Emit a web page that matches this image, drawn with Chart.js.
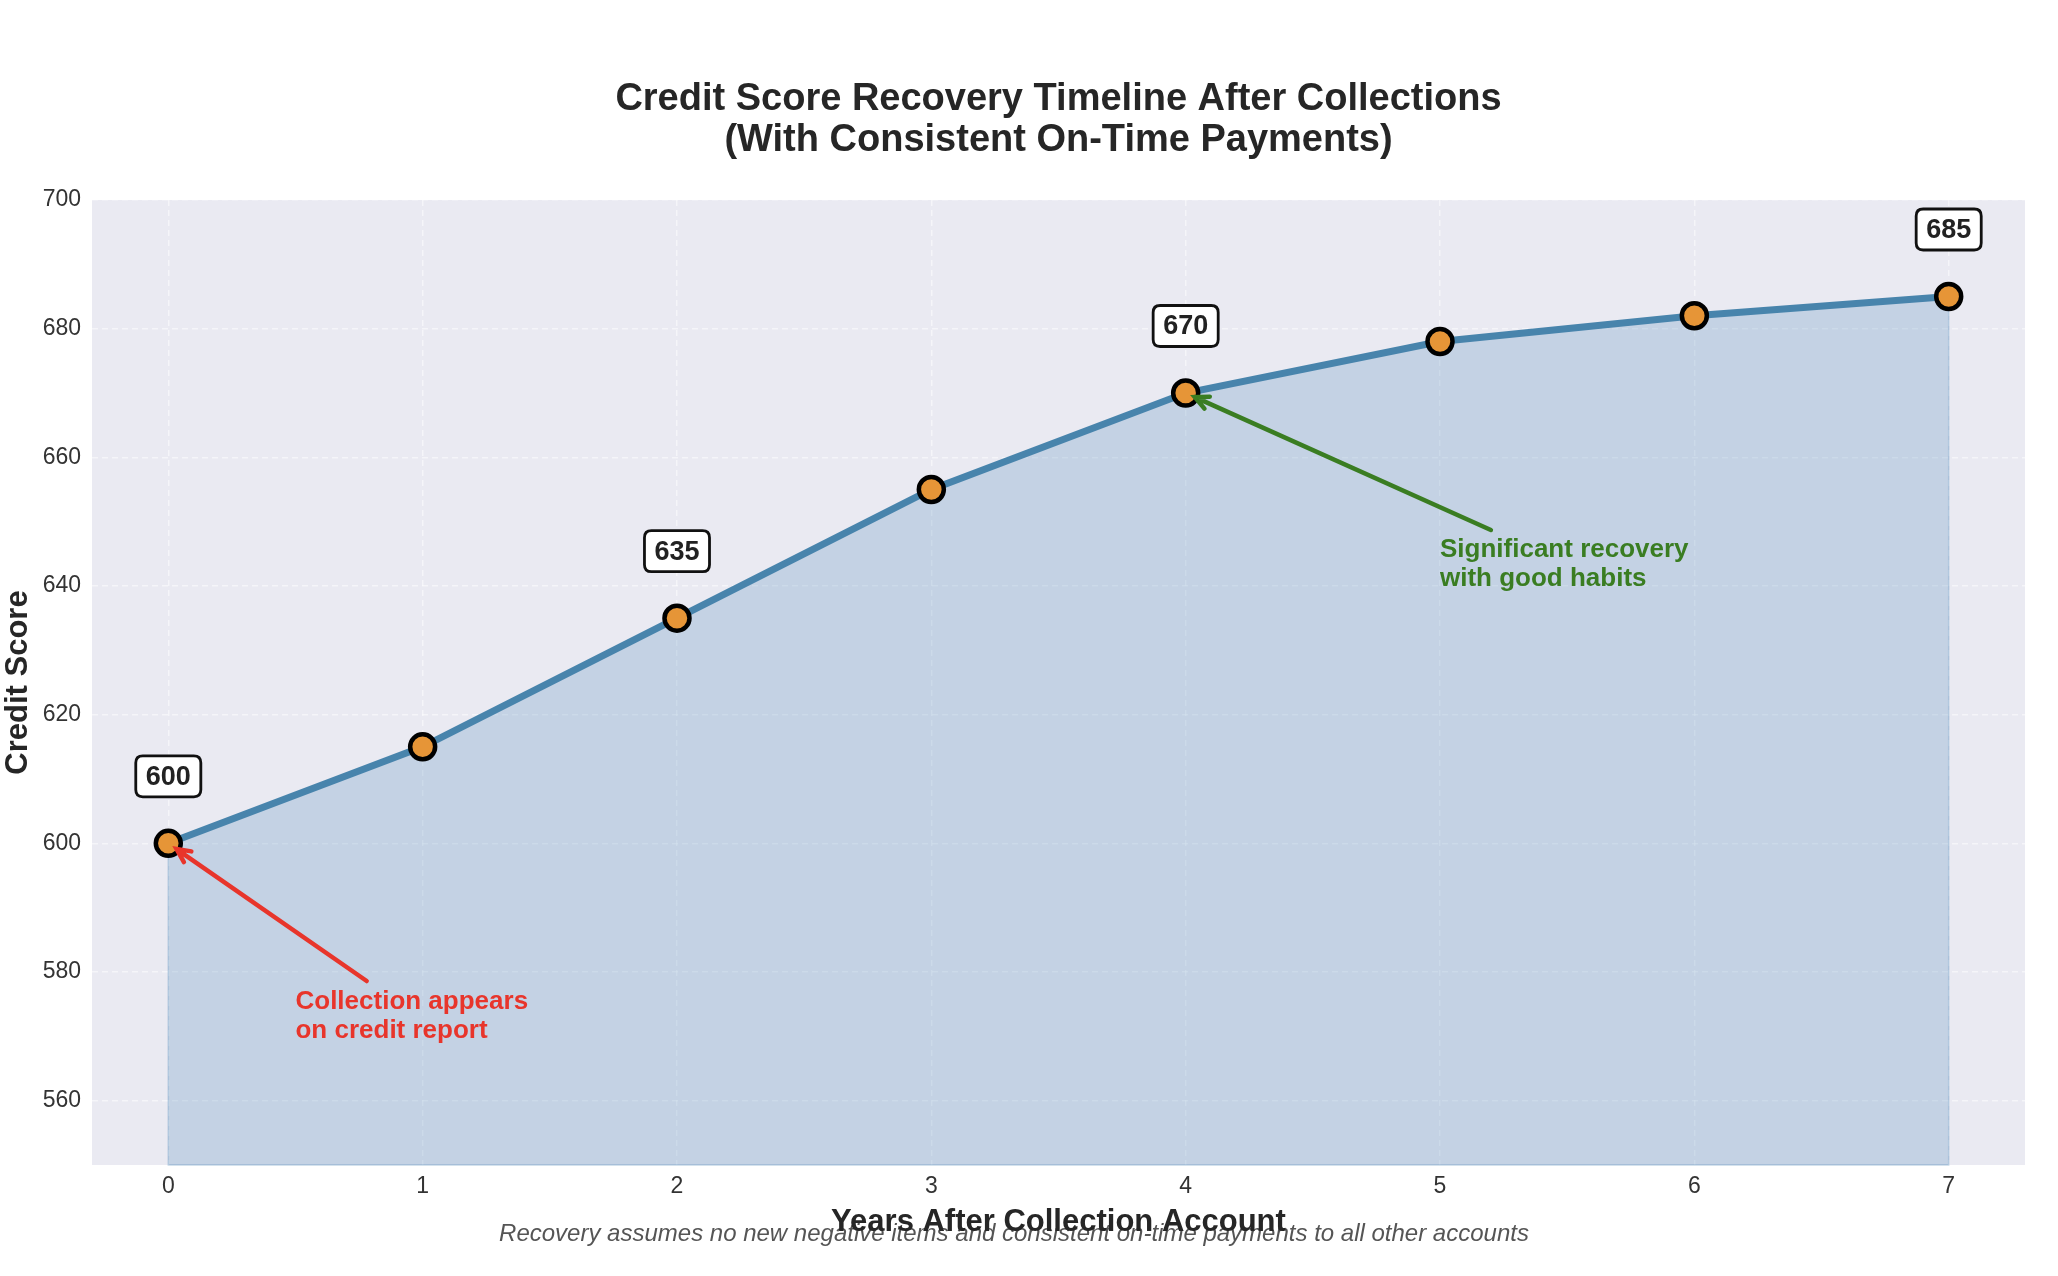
<!DOCTYPE html>
<html lang="en">
<head>
  <meta charset="UTF-8">
  <title>Credit Score Recovery Timeline</title>
  <script src="https://cdn.jsdelivr.net/npm/chart.js"></script>
  <style>
    body {
      margin: 0;
      padding: 0;
      background-color: #ffffff;
      overflow: hidden;
    }
    canvas {
      display: block;
    }
  </style>
</head>
<body>

  <canvas id="recoveryChart" width="2058" height="1276"></canvas>

  <script>
    // dados
    const years = [0, 1, 2, 3, 4, 5, 6, 7];
    const scores = [600, 615, 635, 655, 670, 678, 682, 685];
    const labeledYears = [0, 2, 4, 7];
    const yTicks = [560, 580, 600, 620, 640, 660, 680, 700];
    const xTicks = [0, 1, 2, 3, 4, 5, 6, 7];

    const titleLines = ['Credit Score Recovery Timeline After Collections', '(With Consistent On-Time Payments)'];
    const xTitle = 'Years After Collection Account';
    const yTitle = 'Credit Score';
    const footnote = 'Recovery assumes no new negative items and consistent on-time payments to all other accounts';

    const redNote = ['Collection appears', 'on credit report'];
    const redNoteAt = [0.5, 575];
    const redArrow = [[0.78, 578.6], [0, 600]];
    const greenNote = ['Significant recovery', 'with good habits'];
    const greenNoteAt = [5, 645];
    const greenArrow = [[5.2, 648.7], [4, 670]];

    const FONT = '"Liberation Sans", Arial, sans-serif';

    function drawArrow(ctx, x1, y1, x2, y2, color) {
      let ang = Math.atan2(y2 - y1, x2 - x1);
      // encurta a ponta para não cobrir o marcador
      let tx = x2 - Math.cos(ang) * 10;
      let ty = y2 - Math.sin(ang) * 10;
      ctx.save();
      ctx.strokeStyle = color;
      ctx.lineWidth = 4.5;
      ctx.lineCap = 'round';
      ctx.beginPath();
      ctx.moveTo(x1, y1);
      ctx.lineTo(tx, ty);
      let head = 15;
      ctx.moveTo(tx - head * Math.cos(ang - 0.45), ty - head * Math.sin(ang - 0.45));
      ctx.lineTo(tx, ty);
      ctx.lineTo(tx - head * Math.cos(ang + 0.45), ty - head * Math.sin(ang + 0.45));
      ctx.stroke();
      ctx.restore();
    }

    function roundRect(ctx, x, y, w, h, r) {
      ctx.beginPath();
      ctx.moveTo(x + r, y);
      ctx.lineTo(x + w - r, y);
      ctx.quadraticCurveTo(x + w, y, x + w, y + r);
      ctx.lineTo(x + w, y + h - r);
      ctx.quadraticCurveTo(x + w, y + h, x + w - r, y + h);
      ctx.lineTo(x + r, y + h);
      ctx.quadraticCurveTo(x, y + h, x, y + h - r);
      ctx.lineTo(x, y + r);
      ctx.quadraticCurveTo(x, y, x + r, y);
      ctx.closePath();
    }

    const decoracoes = {
      id: 'decoracoes',
      beforeDraw(chart) {
        let { ctx, chartArea } = chart;
        ctx.save();
        ctx.fillStyle = '#EAEAF2';
        ctx.fillRect(chartArea.left, chartArea.top, chartArea.right - chartArea.left, chartArea.bottom - chartArea.top);
        ctx.restore();
      },
      beforeDatasetsDraw(chart) {
        let { ctx, chartArea, scales } = chart;
        let x = scales.x, y = scales.y;
        // bordas do preenchimento
        ctx.save();
        ctx.strokeStyle = 'rgba(70, 130, 180, 0.3)';
        ctx.lineWidth = 1.5;
        ctx.beginPath();
        let first = 0, last = years.length - 1;
        ctx.moveTo(x.getPixelForValue(years[first]), y.getPixelForValue(scores[first]));
        ctx.lineTo(x.getPixelForValue(years[first]), chartArea.bottom);
        ctx.lineTo(x.getPixelForValue(years[last]), chartArea.bottom);
        ctx.lineTo(x.getPixelForValue(years[last]), y.getPixelForValue(scores[last]));
        ctx.stroke();
        ctx.restore();
      },
      afterDatasetsDraw(chart) {
        let { ctx, chartArea, scales } = chart;
        let x = scales.x, y = scales.y;
        let cx = (chartArea.left + chartArea.right) / 2;

        // setas
        drawArrow(ctx, x.getPixelForValue(redArrow[0][0]), y.getPixelForValue(redArrow[0][1]),
          x.getPixelForValue(redArrow[1][0]), y.getPixelForValue(redArrow[1][1]), '#E8352B');
        drawArrow(ctx, x.getPixelForValue(greenArrow[0][0]), y.getPixelForValue(greenArrow[0][1]),
          x.getPixelForValue(greenArrow[1][0]), y.getPixelForValue(greenArrow[1][1]), '#3A7D22');

        ctx.save();
        ctx.font = 'bold 26px ' + FONT;
        ctx.textAlign = 'left';
        ctx.textBaseline = 'alphabetic';
        ctx.fillStyle = '#E8352B';
        redNote.forEach((t, i) => {
          ctx.fillText(t, x.getPixelForValue(redNoteAt[0]), y.getPixelForValue(redNoteAt[1]) + 5 + i * 29);
        });
        ctx.fillStyle = '#3A7D22';
        greenNote.forEach((t, i) => {
          ctx.fillText(t, x.getPixelForValue(greenNoteAt[0]), y.getPixelForValue(greenNoteAt[1]) + 3 + i * 29);
        });

        // caixas com valores
        ctx.font = 'bold 27px ' + FONT;
        ctx.textAlign = 'center';
        ctx.textBaseline = 'middle';
        labeledYears.forEach(yr => {
          let idx = years.indexOf(yr);
          let px = x.getPixelForValue(yr);
          let py = y.getPixelForValue(scores[idx]) - 67;
          let txt = String(scores[idx]);
          let w = ctx.measureText(txt).width + 20;
          let h = 41;
          roundRect(ctx, px - w / 2, py - h / 2, w, h, 7);
          ctx.fillStyle = '#ffffff';
          ctx.fill();
          ctx.lineWidth = 2.8;
          ctx.strokeStyle = '#111111';
          ctx.stroke();
          ctx.fillStyle = '#222222';
          ctx.fillText(txt, px, py + 1);
        });

        // título
        ctx.font = 'bold 38px ' + FONT;
        ctx.fillStyle = '#262626';
        ctx.fillText(titleLines[0], cx, 100);
        ctx.fillText(titleLines[1], cx, 141);

        // nota de rodapé
        ctx.font = 'italic 24px ' + FONT;
        ctx.fillStyle = '#555555';
        ctx.fillText(footnote, 1014, 1234);

        // títulos dos eixos
        ctx.font = 'bold 31px ' + FONT;
        ctx.fillStyle = '#262626';
        ctx.fillText(xTitle, cx, 1222);
        ctx.translate(18, (chartArea.top + chartArea.bottom) / 2);
        ctx.rotate(-Math.PI / 2);
        ctx.fillText(yTitle, 0, 0);
        ctx.restore();
      }
    };

    let ctx = document.getElementById('recoveryChart').getContext('2d');
    let chart = new Chart(ctx, {
      type: 'line',
      data: {
        datasets: [{
          label: 'Credit Score',
          data: years.map((yr, i) => ({ x: yr, y: scores[i] })),
          borderColor: '#4884AC',
          borderWidth: 7,
          backgroundColor: 'rgba(70, 130, 180, 0.23)',
          fill: 'start',
          tension: 0,
          pointRadius: 12.5,
          pointBorderWidth: 4.5,
          pointBackgroundColor: '#E69537',
          pointBorderColor: '#000000'
        }]
      },
      options: {
        responsive: false,
        animation: false,
        devicePixelRatio: 1,
        layout: {
          padding: { top: 200, right: 33, bottom: 0, left: 0 }
        },
        plugins: {
          legend: { display: false },
          tooltip: { enabled: false },
          title: { display: false }
        },
        scales: {
          x: {
            type: 'linear',
            min: -0.3,
            max: 7.3,
            afterBuildTicks: scale => { scale.ticks = xTicks.map(v => ({ value: v })); },
            afterFit: scale => { scale.height = 111; },
            grid: {
              color: 'rgba(255, 255, 255, 0.5)',
              lineWidth: 1.5,
              drawTicks: false
            },
            border: { display: false, dash: [6, 4] },
            ticks: {
              padding: 8,
              color: '#333333',
              font: { family: FONT, size: 23 }
            }
          },
          y: {
            min: 550,
            max: 700,
            afterBuildTicks: scale => { scale.ticks = yTicks.map(v => ({ value: v })); },
            afterFit: scale => { scale.width = 92; },
            grid: {
              color: 'rgba(255, 255, 255, 0.5)',
              lineWidth: 1.5,
              drawTicks: false
            },
            border: { display: false, dash: [6, 4] },
            ticks: {
              padding: 11,
              color: '#333333',
              font: { family: FONT, size: 23 }
            }
          }
        }
      },
      plugins: [decoracoes]
    });
  </script>

</body>
</html>
